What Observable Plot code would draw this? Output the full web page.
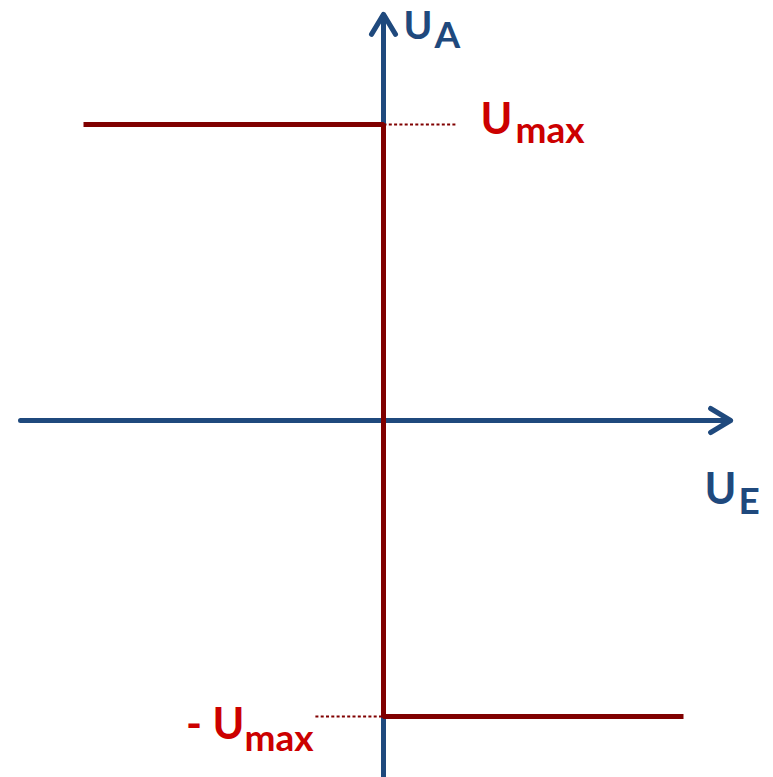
<!DOCTYPE html>
<html>
<head>
<meta charset="utf-8">
<script src="https://cdn.jsdelivr.net/npm/d3@7"></script>
<script src="https://cdn.jsdelivr.net/npm/@observablehq/plot@0.6"></script>
<style>
  html, body { margin: 0; padding: 0; background: #fff; }
  #chart svg { display: block; }
</style>
</head>
<body>
<div id="chart"></div>
<script>
// Transfer characteristic of a comparator (idealised)
const ue = [-1, 0, 0, 1];          // input voltage U_E (normalised)
const ua = [1, 1, -1, -1];         // output voltage U_A (normalised)
const uMax = 1;
const axisX = [-1.21, 1.157];      // extent of U_E axis
const axisY = [-1.21, 1.372];      // extent of U_A axis
const guideTop = [0, 0.24];        // dotted guide to +Umax label
const guideBottom = [-0.227, 0];   // dotted guide to -Umax label

const blue = "#1f497d";
const darkRed = "#800000";
const labelRed = "#cc0000";
const font = "Lato, 'Open Sans', sans-serif";

const curve = ue.map((x, i) => ({x, y: ua[i]}));

const mainText = {fontFamily: font, fontWeight: "bold", fontSize: 43, textAnchor: "start", lineAnchor: "bottom"};
const subText = {fontFamily: font, fontWeight: "bold", fontSize: 37, textAnchor: "start", lineAnchor: "bottom"};

const chart = Plot.plot({
  width: 773,
  height: 777,
  margin: 0,
  x: {domain: [-1, 1], range: [83, 683], axis: null},
  y: {domain: [-1, 1], range: [716, 124], axis: null},
  marks: [
    // axes with arrow heads
    Plot.arrow([0], {x1: axisX[0], y1: 0, x2: axisX[1], y2: 0, stroke: blue, strokeWidth: 5, headLength: 7, headAngle: 62, strokeLinecap: "round", strokeLinejoin: "round"}),
    Plot.arrow([0], {x1: 0, y1: axisY[0], x2: 0, y2: axisY[1], stroke: blue, strokeWidth: 5, headLength: 7, headAngle: 62, strokeLinecap: "round", strokeLinejoin: "round"}),
    // dotted guides
    Plot.link([0], {x1: guideTop[0], y1: uMax, x2: guideTop[1], y2: uMax, stroke: darkRed, strokeWidth: 2, strokeDasharray: "3,2.3"}),
    Plot.link([0], {x1: guideBottom[0], y1: -uMax, x2: guideBottom[1], y2: -uMax, stroke: darkRed, strokeWidth: 2, strokeDasharray: "3,2.3"}),
    // characteristic
    Plot.line(curve, {x: "x", y: "y", stroke: darkRed, strokeWidth: 5, strokeLinejoin: "miter", strokeLinecap: "butt"}),
    // labels: U_A
    Plot.text(["U"], {x: 0, y: axisY[1], text: d => d, dx: 20, dy: 25, fill: blue, ...mainText, fontSize: 39}),
    Plot.text(["A"], {x: 0, y: axisY[1], text: d => d, dx: 51, dy: 34, fill: blue, ...subText}),
    // labels: U_E
    Plot.text(["U"], {x: axisX[1], y: 0, text: d => d, dx: -26, dy: 83, fill: blue, ...mainText}),
    Plot.text(["E"], {x: axisX[1], y: 0, text: d => d, dx: 8, dy: 93, fill: blue, ...subText}),
    // labels: +Umax
    Plot.text(["U"], {x: 0, y: uMax, text: d => d, dx: 97, dy: 9, fill: labelRed, ...mainText}),
    Plot.text(["max"], {x: 0, y: uMax, text: d => d, dx: 132, dy: 18, fill: labelRed, ...subText}),
    // labels: -Umax
    Plot.text(["- U"], {x: 0, y: -uMax, text: d => d, dx: -139, dy: 22, fill: labelRed, ...mainText, textAnchor: "end"}),
    Plot.text(["max"], {x: 0, y: -uMax, text: d => d, dx: -70, dy: 34, fill: labelRed, ...subText, textAnchor: "end"})
  ]
});

document.getElementById("chart").append(chart);
</script>
</body>
</html>
